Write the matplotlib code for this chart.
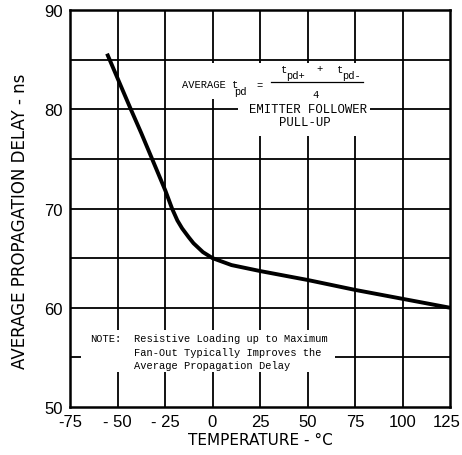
import matplotlib
matplotlib.use("Agg")
import matplotlib.pyplot as plt
from matplotlib.patches import Rectangle
from matplotlib.transforms import ScaledTranslation

# Data
temperature = [-55.5, -43.0, -37.5, -31.8, -24.8, -21.3, -18.5, -16.0, -12.5,
               -10.0, -5.0, 0.0, 10.0, 25.0, 50.0, 75.0, 100.0, 125.0]
delay = [85.6, 80.0, 77.6, 75.0, 71.8, 70.0, 68.8, 68.0, 67.1,
         66.5, 65.6, 65.0, 64.3, 63.7, 62.8, 61.8, 60.9, 60.0]
x_ticks = [-75, -50, -25, 0, 25, 50, 75, 100, 125]
x_tick_labels = ["-75", "- 50", "- 25", "0", "25", "50", "75", "100", "125"]
y_ticks = [50, 60, 70, 80, 90]
y_tick_labels = ["50", "60", "70", "80", "90"]
x_grid = [-50, -25, 0, 25, 50, 75, 100]
y_grid = [55, 60, 65, 70, 75, 80, 85]

W, H = 462, 456
fig = plt.figure(figsize=(W / 100, H / 100), dpi=100)
ax = fig.add_axes([70 / W, 1 - 408 / H, 380 / W, 397 / H])
ax.set_xlim(-75, 125)
ax.set_ylim(50, 90)

for xv in x_grid:
    ax.axvline(xv, color="black", lw=1.3, zorder=1)
for yv in y_grid:
    ax.axhline(yv, color="black", lw=1.3, zorder=1)

# white patches where the grid is interrupted by annotations
for (x0, x1, y0, y1) in [(-17.8, 84.0, 81.0, 84.7),
                         (13.6, 82.8, 77.3, 81.0),
                         (-69.2, 64.5, 53.5, 57.8)]:
    ax.add_patch(Rectangle((x0, y0), x1 - x0, y1 - y0, facecolor="white",
                           edgecolor="none", zorder=2))

ax.plot(temperature, delay, color="black", lw=2.8, zorder=4,
        solid_capstyle="butt", solid_joinstyle="round")

for s in ax.spines.values():
    s.set_linewidth(1.8)

ax.set_xticks(x_ticks)
ax.set_xticklabels(x_tick_labels, fontsize=12, family="Liberation Sans")
ax.set_yticks(y_ticks)
ax.set_yticklabels(y_tick_labels, fontsize=12, family="Liberation Sans")
ax.tick_params(length=0, pad=5)
last = ax.get_xticklabels()[-1]
last.set_transform(last.get_transform() + ScaledTranslation(-3 / 100, 0, fig.dpi_scale_trans))
ax.set_xlabel("TEMPERATURE - °C", fontsize=11, family="DejaVu Sans")
ax.set_ylabel("AVERAGE PROPAGATION DELAY - ns", fontsize=12, family="DejaVu Sans")
ax.xaxis.set_label_coords(0.5, -0.063)
ax.yaxis.set_label_coords(-0.108, 0.471)

mono = dict(family="Liberation Mono", fontsize=7.5, zorder=5, color="black")


def px(x, y):
    # helper: convert figure pixel (from top-left) to axes data coordinates
    return (x - 212) / 47.3 * 25, 90 - (y - 11) / 9.93


ax.text(*px(182, 85), "AVERAGE t", ha="left", va="center", **mono)
ax.text(*px(234, 92), "pd", ha="left", va="center", **mono)
ax.text(*px(259, 86), "=", ha="center", va="center", **mono)
ax.plot(*zip(px(270, 83.5), px(362, 83.5)), color="black", lw=0.9, zorder=5)
ax.text(*px(280, 70), "t", ha="left", va="center", **mono)
ax.text(*px(285, 76), "pd+", ha="left", va="center", **mono)
ax.text(*px(319, 69), "+", ha="center", va="center", **mono)
ax.text(*px(336, 70), "t", ha="left", va="center", **mono)
ax.text(*px(341, 76), "pd-", ha="left", va="center", **mono)
ax.text(*px(315, 95), "4", ha="center", va="center", **mono)
ax.text(*px(307, 110), "EMITTER FOLLOWER", ha="center", va="center",
        **{**mono, "fontsize": 8.8})
ax.text(*px(304, 123), "PULL-UP", ha="center", va="center",
        **{**mono, "fontsize": 8.8})

ax.text(*px(90, 339), "NOTE:", ha="left", va="center", **mono)
ax.text(*px(134, 339), "Resistive Loading up to Maximum", ha="left", va="center", **mono)
ax.text(*px(134, 353), "Fan-Out Typically Improves the", ha="left", va="center", **mono)
ax.text(*px(134, 366), "Average Propagation Delay", ha="left", va="center", **mono)

fig.savefig("out.png", dpi=100, facecolor="white")
